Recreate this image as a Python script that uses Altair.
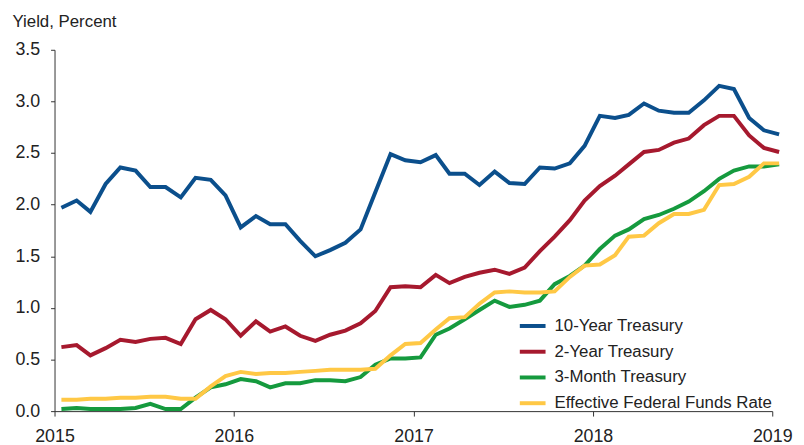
import altair as alt
import pandas as pd

months = pd.date_range("2015-01-01", periods=49, freq="MS") + pd.Timedelta(days=14)
dates = [d.strftime("%Y-%m-%d") for d in months]

ten_year = [1.97, 2.04, 1.93, 2.20, 2.36, 2.33, 2.17, 2.17, 2.07, 2.26, 2.24, 2.09,
            1.78, 1.89, 1.81, 1.81, 1.65, 1.50, 1.56, 1.63, 1.76, 2.12, 2.49, 2.43,
            2.41, 2.48, 2.30, 2.30, 2.19, 2.32, 2.21, 2.20, 2.36, 2.35, 2.40, 2.57,
            2.86, 2.84, 2.87, 2.98, 2.91, 2.89, 2.89, 3.01, 3.15, 3.12, 2.84, 2.72,
            2.68]
two_year = [0.62, 0.64, 0.54, 0.61, 0.69, 0.67, 0.70, 0.71, 0.65, 0.89, 0.98, 0.89,
            0.73, 0.87, 0.77, 0.82, 0.73, 0.68, 0.74, 0.78, 0.85, 0.97, 1.20, 1.21,
            1.20, 1.32, 1.24, 1.30, 1.34, 1.37, 1.33, 1.39, 1.55, 1.69, 1.85, 2.04,
            2.18, 2.28, 2.39, 2.51, 2.53, 2.60, 2.64, 2.77, 2.86, 2.86, 2.67, 2.55,
            2.51]
three_month = [0.02, 0.03, 0.02, 0.02, 0.02, 0.03, 0.07, 0.02, 0.02, 0.13, 0.23, 0.26,
               0.31, 0.29, 0.23, 0.27, 0.27, 0.30, 0.30, 0.29, 0.33, 0.45, 0.51, 0.51,
               0.52, 0.74, 0.80, 0.89, 0.98, 1.07, 1.01, 1.03, 1.07, 1.23, 1.31, 1.41,
               1.57, 1.70, 1.76, 1.86, 1.90, 1.96, 2.03, 2.13, 2.25, 2.33, 2.37, 2.37,
               2.39]
effr = [0.11, 0.11, 0.12, 0.12, 0.13, 0.13, 0.14, 0.14, 0.12, 0.12, 0.24, 0.34,
        0.38, 0.36, 0.37, 0.37, 0.38, 0.39, 0.40, 0.40, 0.40, 0.41, 0.54, 0.65,
        0.66, 0.79, 0.90, 0.91, 1.04, 1.15, 1.16, 1.15, 1.15, 1.16, 1.30, 1.41,
        1.42, 1.51, 1.69, 1.70, 1.82, 1.91, 1.91, 1.95, 2.19, 2.20, 2.27, 2.40,
        2.40]

series_names = ["10-Year Treasury", "2-Year Treasury", "3-Month Treasury",
                "Effective Federal Funds Rate"]
series_colors = ["#0B4F8C", "#A6192E", "#159A3E", "#FFC845"]
x_ticks = ["2015-01-01", "2016-01-01", "2017-01-01", "2018-01-01", "2019-01-01"]

rows = []
for name, vals in zip(series_names, [ten_year, two_year, three_month, effr]):
    for d, v in zip(dates, vals):
        rows.append({"date": d, "value": v, "series": name})
df = pd.DataFrame(rows)

FONT = "Liberation Sans"

chart = alt.Chart(df).mark_line(strokeWidth=4, clip=False).encode(
    x=alt.X("date:T",
            scale=alt.Scale(domain=["2015-01-01", "2019-01-01"], nice=False),
            axis=alt.Axis(title=None, format="%Y", values=x_ticks, grid=False,
                          tickSize=5, labelPadding=12, labelFontSize=18,
                          labelFont=FONT, labelColor="#222", domainColor="#333",
                          tickColor="#333", labelAlign="center", labelBaseline="top",
                          labelFlush=False, labelOverlap=False)),
    y=alt.Y("value:Q",
            scale=alt.Scale(domain=[0, 3.5], nice=False, zero=True),
            axis=alt.Axis(title="Yield, Percent", titleAngle=0, titleAlign="left",
                          titleBaseline="alphabetic", titleX=-43, titleY=-24,
                          titleFont=FONT, titleFontSize=17, titleFontWeight="normal",
                          titleColor="#222",
                          values=[0, 0.5, 1, 1.5, 2, 2.5, 3, 3.5], format=".1f",
                          grid=False, tickSize=4, labelPadding=11, labelFontSize=18,
                          labelFont=FONT, labelColor="#222", domainColor="#333",
                          tickColor="#333")),
    color=alt.Color("series:N",
                    scale=alt.Scale(domain=series_names, range=series_colors),
                    legend=alt.Legend(title=None, orient="none", legendX=468,
                                      legendY=264, symbolType="stroke",
                                      symbolSize=676, symbolStrokeWidth=4,
                                      labelFont=FONT, labelFontSize=17,
                                      labelColor="#222", labelOffset=7,
                                      labelLimit=400, rowPadding=3)),
).properties(
    width=725, height=365,
    autosize=alt.AutoSizeParams(type="none"),
    padding={"left": 47, "top": 40, "right": 24, "bottom": 32},
).configure_view(stroke=None)

chart.save("out.html", embed_options={"renderer": "svg", "actions": False})
